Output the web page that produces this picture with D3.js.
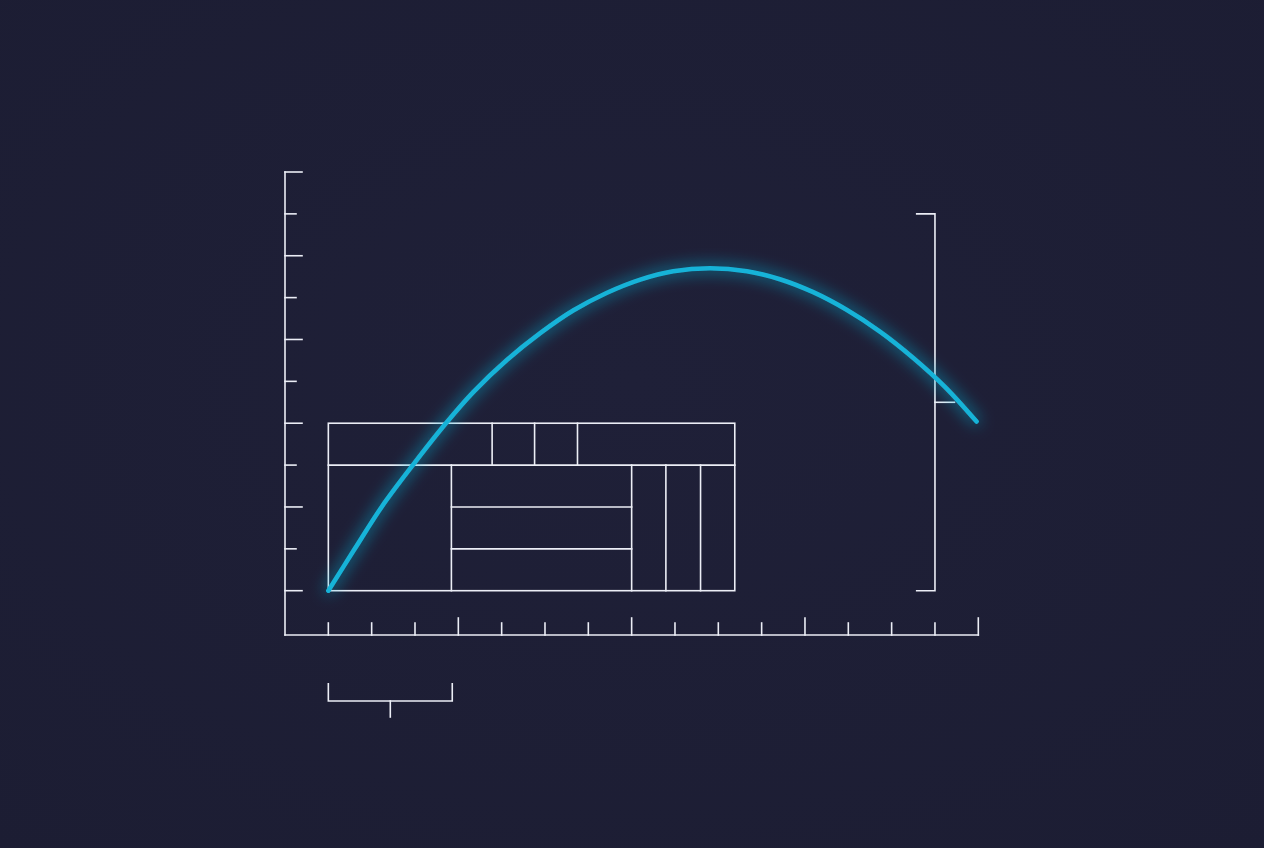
<!DOCTYPE html>
<html>
<head>
<meta charset="utf-8">
<script src="https://cdn.jsdelivr.net/npm/d3@7"></script>
<style>
  html, body { margin: 0; padding: 0; background: #1e1f36; }
  svg { display: block; }
</style>
</head>
<body>
<svg id="chart"></svg>
<script>
const svgWidth = 1264,
    svgHeight = 848;

// tick positions (data units)
const xTicks = d3.range(0, 17);          // 0..16
const yTicks = d3.range(0, 11);          // 0..10
const xMajorEvery = 4;
const yMajorEvery = 2;

// curve
const curveX = [1.0, 1.61, 2.23, 2.95, 3.69, 4.35, 5.12, 5.89, 6.65, 7.42, 8.20, 8.96, 9.81, 10.66, 11.42, 12.19, 12.96, 13.73, 14.50, 15.23, 15.96];
const curveY = [0.0, 1.00, 2.00, 3.00, 3.97, 4.75, 5.51, 6.15, 6.69, 7.11, 7.43, 7.63, 7.70, 7.63, 7.44, 7.13, 6.71, 6.19, 5.56, 4.87, 4.04];

// block grid boundaries (data units)
const gridLeft = 1.0, gridRight = 10.38;
const gridBottom = 0, gridMid = 3, gridTop = 4;
const topRowBreaks = [1.0, 4.78, 5.76, 6.75, 10.38];
const bottomColBreaks = [1.0, 3.84, 8.0, 8.79, 9.59, 10.38];
const middleRowBreaks = [0, 1, 2, 3];

// brackets
const rightBracket = {x: 15, armX: 14.56, y0: 0, y1: 9, mid: 4.5, tickX: 15.45};
const bottomBracket = {x0: 1.0, x1: 3.86, mid: 2.43};

const lineColor = "#eceef6",
    curveColor = "#19b3d8";

const chart = d3.select("#chart")
    .attr("width", svgWidth)
    .attr("height", svgHeight);

const xScale = d3.scaleLinear().domain([0, 16]).range([285, 978.3]);
const yScale = d3.scaleLinear().domain([0, 10]).range([590.7, 172]);
const baseY = 635;   // x axis baseline in pixels

// glow filter
const defs = chart.append("defs");
const glow = defs.append("filter").attr("id", "glow")
    .attr("x", "-20%").attr("y", "-20%").attr("width", "140%").attr("height", "140%");
glow.append("feGaussianBlur").attr("in", "SourceGraphic").attr("stdDeviation", 8).attr("result", "blur");
glow.append("feComponentTransfer").attr("in", "blur").attr("result", "softBlur")
    .append("feFuncA").attr("type", "linear").attr("slope", 1.1);
const merge = glow.append("feMerge");
merge.append("feMergeNode").attr("in", "softBlur");
merge.append("feMergeNode").attr("in", "SourceGraphic");

const bg = defs.append("radialGradient").attr("id", "bg").attr("cx", "50%").attr("cy", "45%").attr("r", "75%");
bg.append("stop").attr("offset", "0%").attr("stop-color", "#1f2038");
bg.append("stop").attr("offset", "100%").attr("stop-color", "#1c1d33");

chart.append("rect").attr("width", svgWidth).attr("height", svgHeight).attr("fill", "url(#bg)");

const g = chart.append("g")
    .attr("fill", "none")
    .attr("stroke", lineColor)
    .attr("stroke-width", 1.6)
    .attr("stroke-linecap", "square");

// y axis
g.append("line")
    .attr("x1", xScale(0)).attr("x2", xScale(0))
    .attr("y1", yScale(10)).attr("y2", baseY);
g.selectAll(".ytick").data(yTicks).enter().append("line")
    .attr("class", "ytick")
    .attr("x1", xScale(0))
    .attr("x2", d => xScale(0) + (d % yMajorEvery == 0 ? 17 : 11))
    .attr("y1", d => yScale(d)).attr("y2", d => yScale(d));

// x axis
g.append("line")
    .attr("x1", xScale(0)).attr("x2", xScale(16))
    .attr("y1", baseY).attr("y2", baseY);
g.selectAll(".xtick").data(xTicks.filter(d => d > 0)).enter().append("line")
    .attr("class", "xtick")
    .attr("x1", d => xScale(d)).attr("x2", d => xScale(d))
    .attr("y1", baseY)
    .attr("y2", d => baseY - (d % xMajorEvery == 0 ? 17 : 12));

// block grid
const grid = g.append("g");
grid.append("rect")
    .attr("x", xScale(gridLeft)).attr("y", yScale(gridTop))
    .attr("width", xScale(gridRight) - xScale(gridLeft))
    .attr("height", yScale(gridBottom) - yScale(gridTop));
grid.append("line")
    .attr("x1", xScale(gridLeft)).attr("x2", xScale(gridRight))
    .attr("y1", yScale(gridMid)).attr("y2", yScale(gridMid));
grid.selectAll(".tb").data(topRowBreaks.slice(1, -1)).enter().append("line")
    .attr("x1", d => xScale(d)).attr("x2", d => xScale(d))
    .attr("y1", yScale(gridTop)).attr("y2", yScale(gridMid));
grid.selectAll(".bb").data(bottomColBreaks.slice(1, -1)).enter().append("line")
    .attr("x1", d => xScale(d)).attr("x2", d => xScale(d))
    .attr("y1", yScale(gridMid)).attr("y2", yScale(gridBottom));
grid.selectAll(".mb").data(middleRowBreaks.slice(1, -1)).enter().append("line")
    .attr("x1", xScale(bottomColBreaks[1])).attr("x2", xScale(bottomColBreaks[2]))
    .attr("y1", d => yScale(d)).attr("y2", d => yScale(d));

// right bracket
const rb = rightBracket;
g.append("path")
    .attr("d", d3.line()([
        [xScale(rb.armX), yScale(rb.y1)],
        [xScale(rb.x), yScale(rb.y1)],
        [xScale(rb.x), yScale(rb.y0)],
        [xScale(rb.armX), yScale(rb.y0)]
    ]))
    .attr("stroke-linecap", "butt");
g.append("line")
    .attr("x1", xScale(rb.x)).attr("x2", xScale(rb.tickX))
    .attr("y1", yScale(rb.mid)).attr("y2", yScale(rb.mid));

// bottom bracket
const bb = bottomBracket;
g.append("path")
    .attr("d", d3.line()([
        [xScale(bb.x0), 683],
        [xScale(bb.x0), 701],
        [xScale(bb.x1), 701],
        [xScale(bb.x1), 683]
    ]))
    .attr("stroke-linecap", "butt");
g.append("line")
    .attr("x1", xScale(bb.mid)).attr("x2", xScale(bb.mid))
    .attr("y1", 701).attr("y2", 717);

// curve
const curveData = curveX.map((x, i) => ({x: x, y: curveY[i]}));
const valueline = d3.line()
    .x(d => xScale(d.x))
    .y(d => yScale(d.y))
    .curve(d3.curveCatmullRom.alpha(0.5));

chart.append("path")
    .datum(curveData)
    .attr("d", valueline)
    .attr("fill", "none")
    .attr("stroke", curveColor)
    .attr("stroke-width", 4.6)
    .attr("stroke-linecap", "round")
    .attr("filter", "url(#glow)");
</script>
</body>
</html>
